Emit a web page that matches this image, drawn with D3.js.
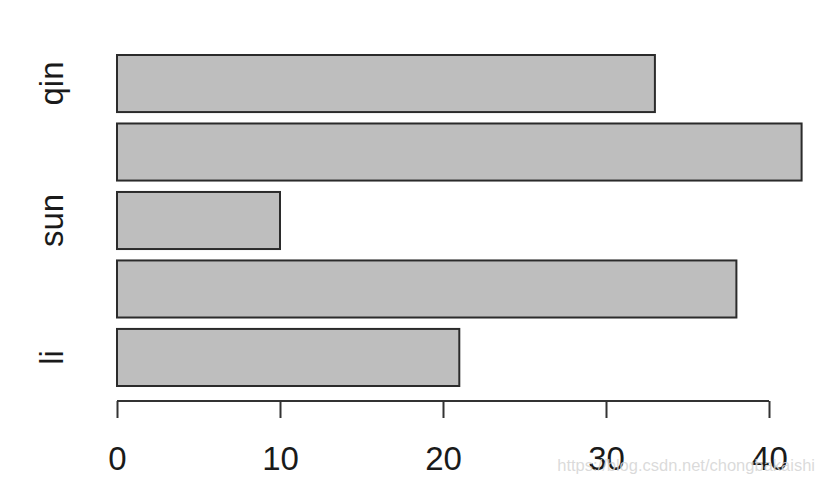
<!DOCTYPE html>
<html>
<head>
<meta charset="utf-8">
<script src="https://cdn.jsdelivr.net/npm/d3@7"></script>
<style>
  body { margin: 0; background: #fff; }
  svg text { font-family: "Liberation Sans", Arial, sans-serif; }
</style>
</head>
<body>
<div id="chartContainer"></div>
<script>
// bars listed bottom to top, like R's barplot(horiz = TRUE)
var labels = ["li", "", "sun", "", "qin"];
var values = [21, 38, 10, 42, 33];
var xTicks = [0, 10, 20, 30, 40];

var width = 824;
var height = 483;

var svg = d3.select('#chartContainer')
    .append('svg')
    .attr("width", width)
    .attr("height", height);

var x = d3.scaleLinear().domain([0, 40]).range([117, 769]);

// index 0 is the bottom bar
var y = d3.scaleBand()
    .domain(d3.range(values.length).reverse())
    .range([55, 386])
    .paddingInner(1 / 6)
    .paddingOuter(0);

/***** Bars *****/
svg.append("g")
  .selectAll("rect")
  .data(values)
  .enter().append("rect")
    .attr("x", x(0))
    .attr("y", (d, i) => y(i))
    .attr("width", (d) => x(d) - x(0))
    .attr("height", y.bandwidth())
    .attr("fill", "#bebebe")
    .attr("stroke", "#2b2b2b")
    .attr("stroke-width", 2);

/***** Bar names *****/
svg.append("g")
  .selectAll("text")
  .data(labels)
  .enter().append("text")
    .attr("transform", (d, i) => "translate(63," + (y(i) + y.bandwidth() / 2) + ") rotate(-90)")
    .attr("text-anchor", "middle")
    .attr("font-size", 33)
    .attr("fill", "#1a1a1a")
    .text((d) => d);

/***** X axis *****/
var xAxisGroup = svg.append('g').attr("transform", "translate(0,401)");
var xAxis = d3.axisBottom(x)
    .tickValues(xTicks)
    .tickSize(17)
    .tickSizeOuter(0)
    .tickPadding(0)
    .tickFormat(d3.format("d"));
xAxis(xAxisGroup);

xAxisGroup.select(".domain")
    .attr("d", "M" + x(0) + ",0H" + x(40))
    .attr("stroke", "#333")
    .attr("stroke-width", 2);
xAxisGroup.selectAll(".tick line")
    .attr("stroke", "#333")
    .attr("stroke-width", 2);
xAxisGroup.selectAll(".tick text")
    .attr("font-size", 33)
    .attr("font-family", "Liberation Sans, Arial, sans-serif")
    .attr("fill", "#1a1a1a")
    .attr("dy", null)
    .attr("y", 69);

/***** Watermark *****/
svg.append("text")
    .attr("x", 815)
    .attr("y", 471)
    .attr("text-anchor", "end")
    .attr("font-size", 16.5)
    .attr("fill", "#d4d4d4")
    .attr("fill-opacity", 0.85)
    .text("https://blog.csdn.net/chongbakaishi");
</script>
</body>
</html>
